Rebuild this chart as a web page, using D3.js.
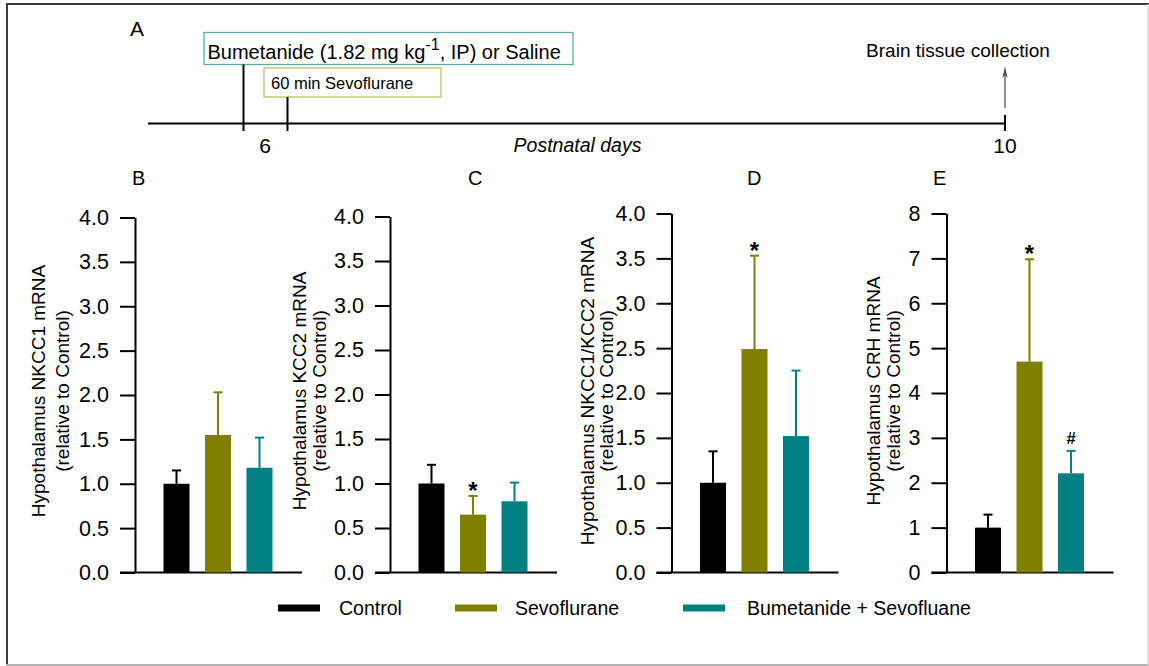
<!DOCTYPE html>
<html>
<head>
<meta charset="utf-8">
<script src="https://cdn.jsdelivr.net/npm/d3@7/dist/d3.min.js"></script>
<style>
  html, body { margin: 0; padding: 0; background: #ffffff; }
  svg { display: block; font-family: "Liberation Sans", Arial, sans-serif; }
</style>
</head>
<body>
<svg id="chart" width="1149" height="666"></svg>
<script>
// ---------------- DATA ----------------
const groups = ["Control", "Sevoflurane", "Bumetanide + Sevofluane"];
const groupColors = ["#000000", "#808000", "#008080"];

const panelLetters = ["B", "C", "D", "E"];
const yTitles = [
  "Hypothalamus NKCC1 mRNA",
  "Hypothalamus KCC2 mRNA",
  "Hypothalamus NKCC1/KCC2 mRNA",
  "Hypothalamus CRH mRNA"
];
const yTitleSub = "(relative to Control)";

const meansNKCC1 = [1.00, 1.55, 1.18];
const errsNKCC1  = [0.15, 0.48, 0.34];
const meansKCC2  = [1.00, 0.65, 0.80];
const errsKCC2   = [0.21, 0.21, 0.21];
const meansRatio = [1.00, 2.49, 1.52];
const errsRatio  = [0.35, 1.04, 0.73];
const meansCRH   = [1.00, 4.70, 2.21];
const errsCRH    = [0.29, 2.28, 0.50];

const marksNKCC1 = ["", "", ""];
const marksKCC2  = ["", "*", ""];
const marksRatio = ["", "*", ""];
const marksCRH   = ["", "*", "#"];

const ticksRatio = [0, 0.5, 1.0, 1.5, 2.0, 2.5, 3.0, 3.5, 4.0];
const ticksCRH   = [0, 1, 2, 3, 4, 5, 6, 7, 8];
const yMaxRatio = 4;
const yMaxCRH = 8;

// timeline text
const tlTitle = "A";
const tlDays = [6, 10];
const tlAxisLabel = "Postnatal days";
const tlEndLabel = "Brain tissue collection";
const tlSevoLabel = "60 min Sevoflurane";

// ---------------- LAYOUT ----------------
const svg = d3.select("#chart");
const FONT = "\"Liberation Sans\", Arial, sans-serif";

// frame
svg.append("line").attr("x1", 6).attr("x2", 1149).attr("y1", 4).attr("y2", 4)
  .attr("stroke", "#3a3a3a").attr("stroke-width", 2);
svg.append("line").attr("x1", 7).attr("x2", 7).attr("y1", 4).attr("y2", 665)
  .attr("stroke", "#3a3a3a").attr("stroke-width", 2);
svg.append("line").attr("x1", 6).attr("x2", 1149).attr("y1", 665).attr("y2", 665)
  .attr("stroke", "#b4b4b4").attr("stroke-width", 2);
svg.append("line").attr("x1", 1148).attr("x2", 1148).attr("y1", 4).attr("y2", 665)
  .attr("stroke", "#dcdcdc").attr("stroke-width", 1.5);

// ---------------- TIMELINE (panel A) ----------------
const tl = svg.append("g");
const dayX = d3.scaleLinear().domain([6, 10]).range([265, 1005]);
const lineY = 123.5;

tl.append("text").attr("x", 130).attr("y", 36).attr("font-size", 21).text(tlTitle);

tl.append("line").attr("x1", 148).attr("x2", dayX(10)).attr("y1", lineY).attr("y2", lineY)
  .attr("stroke", "#000").attr("stroke-width", 2);

// day labels
tl.selectAll("text.day").data(tlDays).join("text").attr("class", "day")
  .attr("x", d => dayX(d)).attr("y", 153).attr("text-anchor", "middle")
  .attr("font-size", 21).text(d => d);

tl.append("text").attr("x", 577.5).attr("y", 152).attr("text-anchor", "middle")
  .attr("font-size", 19.5).attr("font-style", "italic").text(tlAxisLabel);

// Bumetanide box
const b1 = { x: 204, y: 32.5, w: 369, h: 32 };
tl.append("rect").attr("x", b1.x).attr("y", b1.y).attr("width", b1.w).attr("height", b1.h)
  .attr("fill", "none").attr("stroke", "#5fa8a8").attr("stroke-width", 1.3);
const t1 = tl.append("text").attr("x", 207.5).attr("y", 58.5).attr("font-size", 20);
t1.append("tspan").text("Bumetanide (1.82 mg kg");
t1.append("tspan").attr("dy", -9).attr("font-size", 16).text("-1");
t1.append("tspan").attr("dy", 9).text(", IP) or Saline");

// Sevoflurane box
const b2 = { x: 264, y: 68, w: 177, h: 29 };
tl.append("rect").attr("x", b2.x).attr("y", b2.y).attr("width", b2.w).attr("height", b2.h)
  .attr("fill", "none").attr("stroke", "#c4bd6c").attr("stroke-width", 1.3);
tl.append("text").attr("x", 271).attr("y", 88.5).attr("font-size", 16.5).text(tlSevoLabel);

// event markers on day 6
tl.append("line").attr("x1", dayX(6) - 21.5).attr("x2", dayX(6) - 21.5)
  .attr("y1", b1.y + b1.h).attr("y2", 131).attr("stroke", "#000").attr("stroke-width", 2);
tl.append("line").attr("x1", dayX(6) + 22.5).attr("x2", dayX(6) + 22.5)
  .attr("y1", b2.y + b2.h).attr("y2", 131).attr("stroke", "#000").attr("stroke-width", 2);

// day 10 tick and arrow
tl.append("line").attr("x1", dayX(10)).attr("x2", dayX(10)).attr("y1", 115).attr("y2", 131)
  .attr("stroke", "#000").attr("stroke-width", 2);
tl.append("line").attr("x1", dayX(10)).attr("x2", dayX(10)).attr("y1", 108).attr("y2", 70)
  .attr("stroke", "#555").attr("stroke-width", 1.3);
tl.append("path")
  .attr("d", `M${dayX(10)},66 L${dayX(10) - 2.6},78 L${dayX(10)},75 L${dayX(10) + 2.6},78 Z`)
  .attr("fill", "#555");
tl.append("text").attr("x", 958).attr("y", 57).attr("text-anchor", "middle")
  .attr("font-size", 19).text(tlEndLabel);

// ---------------- BAR PANELS ----------------
const panels = [
  { means: meansNKCC1, errs: errsNKCC1, marks: marksNKCC1, ticks: ticksRatio, max: yMaxRatio, fmt: d3.format(".1f") },
  { means: meansKCC2,  errs: errsKCC2,  marks: marksKCC2,  ticks: ticksRatio, max: yMaxRatio, fmt: d3.format(".1f") },
  { means: meansRatio, errs: errsRatio, marks: marksRatio, ticks: ticksRatio, max: yMaxRatio, fmt: d3.format(".1f") },
  { means: meansCRH,   errs: errsCRH,   marks: marksCRH,   ticks: ticksCRH,   max: yMaxCRH,   fmt: d3.format("d") }
];
// layout per panel
const layout = [
  { ax: 135,   top: 217.5, letterX: 132, titleX1: 38,  titleX2: 62 },
  { ax: 390,   top: 216.5, letterX: 468, titleX1: 299, titleX2: 319 },
  { ax: 671.5, top: 213.5, letterX: 747, titleX1: 587, titleX2: 606 },
  { ax: 946.5, top: 213.5, letterX: 933, titleX1: 873, titleX2: 893 }
];
const baseY = 572.5;
const barW = 26;
const capHalf = 4.5;

panels.forEach((p, i) => {
  const L = layout[i];
  const g = svg.append("g");
  const y = d3.scaleLinear().domain([0, p.max]).range([baseY, L.top]);
  const x = d3.scalePoint().domain(groups).range([L.ax + 41.5, L.ax + 124.5]);

  // y axis
  const yAxis = d3.axisLeft(y).tickValues(p.ticks).tickFormat(p.fmt)
    .tickSize(15).tickSizeOuter(0).tickPadding(11);
  const ag = g.append("g").attr("transform", `translate(${L.ax},0)`).call(yAxis);
  ag.select(".domain").attr("stroke", "#000").attr("stroke-width", 2);
  ag.selectAll(".tick line").attr("stroke", "#000").attr("stroke-width", 2);
  ag.selectAll(".tick text").attr("font-size", 21.5).attr("font-family", FONT).attr("fill", "#000");

  // x baseline
  g.append("line").attr("x1", L.ax - 15).attr("x2", L.ax + 167)
    .attr("y1", baseY).attr("y2", baseY).attr("stroke", "#000").attr("stroke-width", 2);

  const rows = groups.map((gname, k) => ({ g: gname, m: p.means[k], e: p.errs[k], c: groupColors[k], mark: p.marks[k] }));

  // error bars
  g.selectAll("line.err").data(rows).join("line").attr("class", "err")
    .attr("x1", d => x(d.g)).attr("x2", d => x(d.g))
    .attr("y1", d => y(d.m)).attr("y2", d => y(d.m + d.e))
    .attr("stroke", d => d.c).attr("stroke-width", 2);
  g.selectAll("line.cap").data(rows).join("line").attr("class", "cap")
    .attr("x1", d => x(d.g) - capHalf).attr("x2", d => x(d.g) + capHalf)
    .attr("y1", d => y(d.m + d.e)).attr("y2", d => y(d.m + d.e))
    .attr("stroke", d => d.c).attr("stroke-width", 2);

  // bars
  g.selectAll("rect.bar").data(rows).join("rect").attr("class", "bar")
    .attr("x", d => x(d.g) - barW / 2).attr("width", barW)
    .attr("y", d => y(d.m)).attr("height", d => baseY - y(d.m))
    .attr("fill", d => d.c);

  // significance marks
  g.selectAll("text.mark").data(rows.filter(d => d.mark)).join("text").attr("class", "mark")
    .attr("x", d => x(d.g)).attr("text-anchor", "middle")
    .attr("y", d => d.mark === "*" ? y(d.m + d.e) + 3 : y(d.m + d.e) - 7)
    .attr("font-weight", "bold")
    .attr("font-size", d => d.mark === "*" ? 24 : 16.5)
    .text(d => d.mark);

  // panel letter
  g.append("text").attr("x", L.letterX).attr("y", 184.5).attr("font-size", 20).text(panelLetters[i]);

  // y titles
  const cy = 391;
  g.append("text").attr("transform", `translate(${L.titleX1},${cy}) rotate(-90)`)
    .attr("text-anchor", "middle").attr("dominant-baseline", "central")
    .attr("font-size", 19).text(yTitles[i]);
  g.append("text").attr("transform", `translate(${L.titleX2},${cy}) rotate(-90)`)
    .attr("text-anchor", "middle").attr("dominant-baseline", "central")
    .attr("font-size", 19).text(yTitleSub);
});

// ---------------- LEGEND ----------------
const legendSwatchX = [278, 455, 683];
const legendTextX = [339, 515, 747];
const lg = svg.append("g");
lg.selectAll("rect").data(groups).join("rect")
  .attr("x", (d, k) => legendSwatchX[k]).attr("y", 604.5)
  .attr("width", 42).attr("height", 7)
  .attr("fill", (d, k) => groupColors[k]);
lg.selectAll("text").data(groups).join("text")
  .attr("x", (d, k) => legendTextX[k]).attr("y", 614.5)
  .attr("font-size", 19.5).text(d => d);
</script>
</body>
</html>
